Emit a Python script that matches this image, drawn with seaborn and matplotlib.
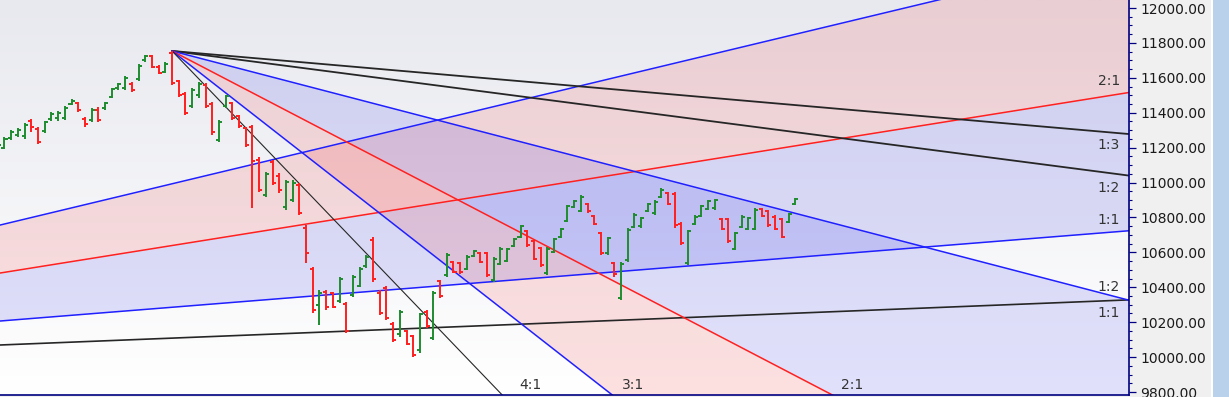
import numpy as np
import pandas as pd
import matplotlib
matplotlib.use("Agg")
import matplotlib.pyplot as plt
from matplotlib.colors import LinearSegmentedColormap
from matplotlib.patches import Rectangle
from matplotlib.ticker import MultipleLocator, FuncFormatter
import seaborn as sns

# ---------------- data ----------------
bar_open = [11175, 11200, 11255, 11270, 11265, 11355, 11305, 11295, 11365, 11370,
            11370, 11450, 11455, 11365, 11360, 11415, 11425, 11490, 11540,
            11540, 11565, 11595, 11700, 11725, 11665, 11635, 11745,
            11580, 11505, 11440, 11500, 11560, 11450, 11245, 11440, 11455, 11380,
            11310, 11320, 11130, 10930, 11120, 11040, 10860, 10900, 10985,
            10740, 10505, 10300, 10375, 10365, 10320, 10305, 10355, 10410, 10520,
            10670, 10370, 10395, 10190, 10130, 10150, 10120, 10040, 10260, 10110,
            10435, 10470, 10545, 10540, 10505, 10580, 10598, 10595, 10440, 10535,
            10550, 10635, 10690, 10720, 10665, 10625, 10480, 10600, 10690, 10780,
            10860, 10840, 10880, 10810, 10710, 10595, 10540, 10340, 10555, 10745,
            10750, 10835, 10825, 10915, 10940, 10935, 10765, 10540, 10765, 10810,
            10850, 10855, 10790, 10790, 10620, 10745, 10735, 10735, 10850, 10835,
            10805, 10790, 10775, 10875]
bar_high = [11232, 11261, 11301, 11312, 11341, 11364, 11318, 11353, 11404, 11410,
            11438, 11479, 11462, 11375, 11427, 11433, 11462, 11542, 11570,
            11610, 11576, 11679, 11731, 11731, 11673, 11691, 11754,
            11587, 11519, 11542, 11576, 11570, 11462, 11358, 11502, 11462, 11387,
            11318, 11330, 11146, 11060, 11129, 11055, 11015, 11015, 10997,
            10757, 10516, 10384, 10384, 10373, 10459, 10316, 10470, 10516, 10585,
            10688, 10384, 10407, 10201, 10270, 10155, 10127, 10253, 10270, 10379,
            10442, 10596, 10550, 10545, 10585, 10614, 10602, 10602, 10573, 10630,
            10625, 10682, 10757, 10728, 10671, 10630, 10630, 10682, 10740, 10871,
            10900, 10929, 10883, 10814, 10717, 10688, 10545, 10545, 10740, 10825,
            10803, 10883, 10900, 10969, 10946, 10946, 10774, 10728, 10814, 10871,
            10900, 10906, 10797, 10797, 10717, 10814, 10803, 10854, 10854, 10843,
            10814, 10797, 10825, 10911]
bar_low = [11141, 11192, 11244, 11261, 11249, 11290, 11221, 11284, 11353, 11353,
           11358, 11444, 11404, 11318, 11347, 11347, 11416, 11484, 11530,
           11530, 11519, 11581, 11691, 11656, 11622, 11628, 11559,
           11490, 11387, 11427, 11484, 11427, 11272, 11232, 11427, 11358, 11312,
           11204, 10854, 10946, 10917, 10986, 10940, 10843, 10889, 10814,
           10539, 10253, 10184, 10270, 10281, 10310, 10138, 10344, 10401, 10510,
           10430, 10241, 10212, 10086, 10115, 10069, 10000, 10023, 10167, 10098,
           10338, 10459, 10482, 10476, 10499, 10573, 10539, 10459, 10430, 10528,
           10545, 10630, 10682, 10630, 10556, 10516, 10470, 10596, 10682, 10774,
           10854, 10831, 10825, 10757, 10585, 10585, 10459, 10327, 10545, 10740,
           10740, 10831, 10814, 10911, 10871, 10740, 10642, 10528, 10757, 10803,
           10843, 10843, 10728, 10654, 10614, 10740, 10728, 10728, 10803, 10745,
           10728, 10682, 10768, 10871]
bar_close = [11215, 11250, 11290, 11300, 11330, 11320, 11230, 11345, 11395, 11400,
             11430, 11470, 11415, 11335, 11415, 11360, 11455, 11535, 11565,
             11600, 11530, 11670, 11725, 11665, 11630, 11680, 11570,
             11500, 11400, 11530, 11565, 11440, 11290, 11345, 11495, 11370, 11325,
             11215, 11125, 10960, 11050, 11000, 10955, 11005, 11000, 10825,
             10596, 10270, 10370, 10285, 10290, 10450, 10150, 10460, 10505, 10575,
             10445, 10255, 10225, 10100, 10260, 10075, 10015, 10245, 10180, 10370,
             10350, 10585, 10490, 10485, 10575, 10610, 10545, 10470, 10565, 10620,
             10618, 10675, 10750, 10640, 10565, 10525, 10622, 10675, 10735, 10865,
             10895, 10920, 10835, 10765, 10595, 10680, 10475, 10535, 10730, 10815,
             10795, 10875, 10890, 10960, 10880, 10755, 10655, 10720, 10805, 10865,
             10895, 10900, 10735, 10665, 10710, 10805, 10795, 10845, 10808, 10755,
             10735, 10690, 10818, 10905]

# Gann fan parameters
top_pivot_idx = 26
top_pivot_price = 11754
top_unit = 10.0
top_ratios = [1/3, 1/2, 1, 2, 3, 4]
top_colors = ["#262626", "#262626", "#2020ff", "#ff2020", "#2020ff", "#262626"]
top_widths = [1.3, 1.3, 1.1, 1.1, 1.1, 0.8]

low_pivot_idx = -89.2
low_pivot_price = 9932
low_unit = 3.07
low_ratios = [1/2, 1, 2, 3]
low_colors = ["#262626", "#2020ff", "#ff2020", "#2020ff"]
low_widths = [1.2, 1.1, 1.1, 1.1]

y_ticks = [9800, 10000, 10200, 10400, 10600, 10800, 11000, 11200, 11400, 11600, 11800, 12000]

# ---------------- figure ----------------
sns.set_style("white")
plt.rcParams['font.family'] = ['DejaVu Sans']

W, H = 1229, 397
fig = plt.figure(figsize=(W / 100, H / 100), dpi=100, facecolor="#f0f0f0")
ax = fig.add_axes([0, 2 / H, 1129 / W, 395 / H])

XMIN, XMAX = 0.33, 168.8
YMIN, YMAX = 9783, 12046

# background gradient
grad = np.linspace(0, 1, 256).reshape(-1, 1)
bg_cmap = LinearSegmentedColormap.from_list("bg", ["#e8e9ef", "#ffffff"])
ax.imshow(grad, extent=[0, 1, 0, 1], transform=ax.transAxes, cmap=bg_cmap,
          aspect="auto", origin="upper", zorder=0)

xs = np.linspace(XMIN - 1, XMAX + 1, 800)
n = len(bar_open)
idx = np.arange(n)

def top_line(r, x):
    return top_pivot_price - r * top_unit * (x - top_pivot_idx)

def low_line(r, x):
    return low_pivot_price + r * low_unit * (x - low_pivot_idx)

BLUE_FILL = (0.05, 0.05, 0.9, 0.12)
PINK_FILL = (0.95, 0.05, 0.05, 0.12)

# lower fan fills
ax.fill_between(xs, low_line(3, xs), low_line(2, xs), color=PINK_FILL, lw=0, zorder=1)
ax.fill_between(xs, low_line(2, xs), low_line(1, xs), color=BLUE_FILL, lw=0, zorder=1)
# upper fan fills
xt = xs[xs >= top_pivot_idx]
xt = np.concatenate([[top_pivot_idx], xt])
ax.fill_between(xt, top_line(1, xt), top_line(2, xt), color=BLUE_FILL, lw=0, zorder=1)
ax.fill_between(xt, top_line(2, xt), top_line(3, xt), color=PINK_FILL, lw=0, zorder=1)

# fan lines
for r, c, w in zip(low_ratios, low_colors, low_widths):
    df = pd.DataFrame({"x": xs, "y": low_line(r, xs)})
    sns.lineplot(data=df, x="x", y="y", color=c, linewidth=w, ax=ax, zorder=2,
                 legend=False, estimator=None, sort=False)
for r, c, w in zip(top_ratios, top_colors, top_widths):
    df = pd.DataFrame({"x": xt, "y": top_line(r, xt)})
    sns.lineplot(data=df, x="x", y="y", color=c, linewidth=w, ax=ax, zorder=2,
                 legend=False, estimator=None, sort=False)

# OHLC bars
up = np.array(bar_close) >= np.array(bar_open)
cols = np.where(up, "#1e8c2e", "#ff1f1f")
tw = 0.45
ax.vlines(idx, bar_low, bar_high, colors=cols, linewidth=1.4, zorder=3)
ax.hlines(bar_open, idx - tw, idx, colors=cols, linewidth=1.4, zorder=3)
ax.hlines(bar_close, idx, idx + tw, colors=cols, linewidth=1.4, zorder=3)

ax.set_xlim(XMIN, XMAX)
ax.set_ylim(YMIN, YMAX)
ax.set_xlabel("")
ax.set_ylabel("")

# fan labels on right edge
txt_kw = dict(textcoords="offset pixels", fontsize=10, color="#333333",
              ha="right", va="center", zorder=5, annotation_clip=False)
right_labels = [
    ("2:1", low_line(2, XMAX), 11),
    ("1:3", top_line(1/3, XMAX), -11),
    ("1:2", top_line(1/2, XMAX), -12),
    ("1:1", low_line(1, XMAX), 11),
    ("1:2", top_line(1, XMAX), 13),
    ("1:1", low_line(1/2, XMAX), -13),
]
for t, yv, dy in right_labels:
    ax.annotate(t, xy=(XMAX, yv), xytext=(-9, dy), **txt_kw)

# fan labels at the bottom
bottom_labels = [("4:1", 4, 28), ("3:1", 3, 21), ("2:1", 2, 20)]
for t, r, dx in bottom_labels:
    xhit = top_pivot_idx + (top_pivot_price - YMIN) / (r * top_unit)
    ax.annotate(t, xy=(xhit, YMIN), xytext=(dx, 10), textcoords="offset pixels",
                fontsize=10, color="#333333", ha="center", va="center", zorder=5)

# axes styling
for s in ["top", "left"]:
    ax.spines[s].set_visible(False)
for s in ["right", "bottom"]:
    ax.spines[s].set_visible(True)
    ax.spines[s].set_color("#000080")
    ax.spines[s].set_linewidth(1.2)
ax.spines["right"].set_zorder(6)
ax.spines["bottom"].set_zorder(6)

ax.set_xticks([])
ax.yaxis.tick_right()
ax.set_yticks(y_ticks)
ax.yaxis.set_minor_locator(MultipleLocator(50))
ax.yaxis.set_major_formatter(FuncFormatter(lambda v, p: f"{v:.2f}"))
ax.tick_params(axis="y", which="major", length=5, width=0.9, color="#000080",
               labelsize=10, labelcolor="#1a1a1a", pad=3, right=True, left=False)
ax.tick_params(axis="y", which="minor", length=2.5, width=0.8, color="#000080",
               right=True, left=False)
ax.grid(False)

# scrollbar strip at right edge
fig.patches.append(Rectangle((1212 / W, 0), 17 / W, 1, transform=fig.transFigure,
                             facecolor="#b9d1ea", edgecolor="none", zorder=0))
fig.patches.append(Rectangle((1211 / W, 0), 1.5 / W, 1, transform=fig.transFigure,
                             facecolor="#ffffff", edgecolor="none", zorder=0))

fig.savefig("out.png", dpi=100, facecolor=fig.get_facecolor())
